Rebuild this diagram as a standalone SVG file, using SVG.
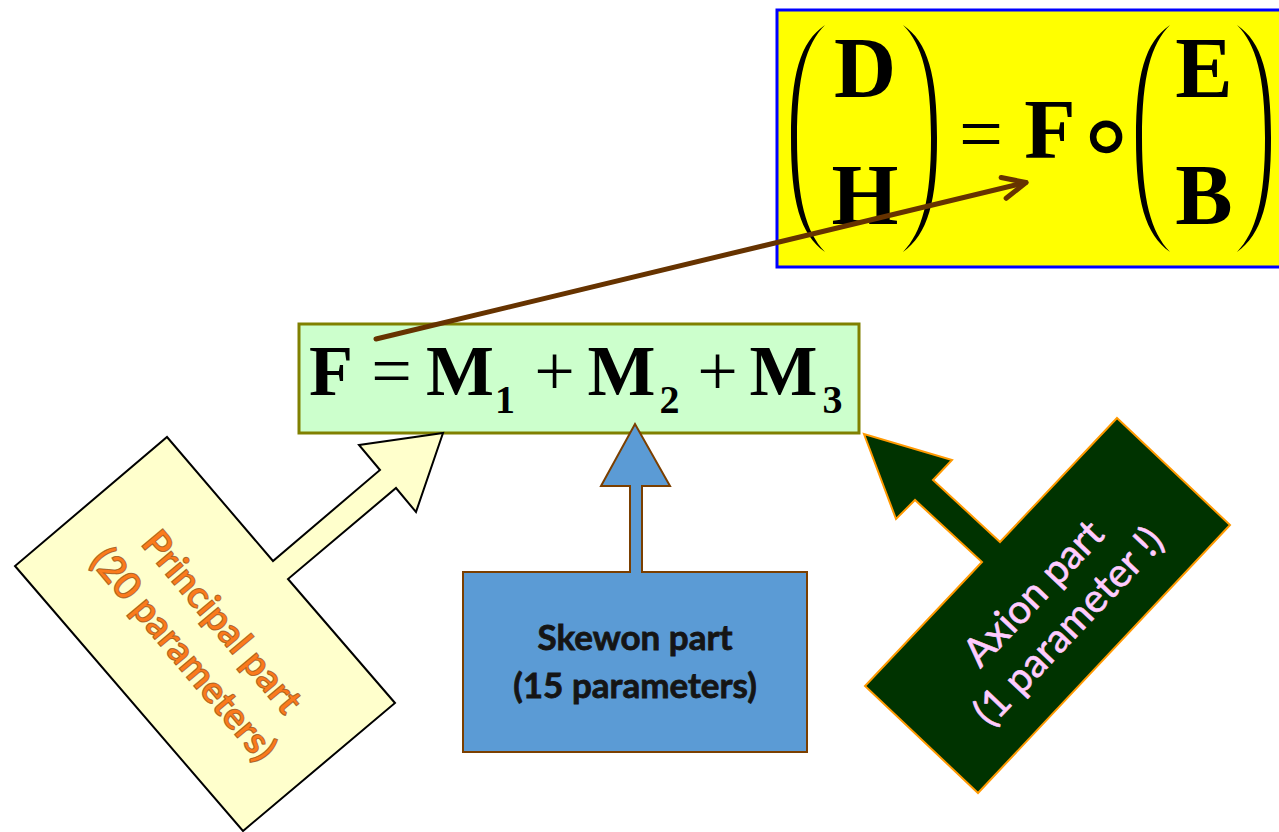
<svg xmlns="http://www.w3.org/2000/svg" width="1279" height="832" viewBox="0 0 1279 832">
<defs>
<style>
.math{font-family:"Liberation Serif","Times New Roman",serif;fill:#000}
.b{font-weight:bold}
.lbl{font-family:Lato,"Open Sans","Liberation Sans",sans-serif}
.paren{fill:#000}
</style>
<marker id="chev" markerUnits="userSpaceOnUse" markerWidth="40" markerHeight="40" viewBox="-30 -20 40 40" refX="0" refY="0" orient="auto">
<path d="M-23,-10.7 L0,0 L-23,10.7" fill="none" stroke="#663300" stroke-width="5" stroke-linecap="round" stroke-linejoin="round"/>
</marker>
</defs>
<rect width="1279" height="832" fill="#fff"/>

<g id="node-result">
<rect x="777" y="10" width="520" height="257" fill="#ffff00" stroke="#0000ff" stroke-width="3"/>
<path class="paren" d="M825,25 C800,42 791,75 791,138 C791,201 800,234 825,252 C806,232 797,200 797,138 C797,76 806,44 825,25 Z"/>
<path class="paren" d="M903,25 C928,42 937,75 937,138 C937,201 928,234 903,252 C922,232 931,200 931,138 C931,76 922,44 903,25 Z"/>
<path class="paren" d="M1170,25 C1145,42 1136,75 1136,138 C1136,201 1145,234 1170,252 C1151,232 1142,200 1142,138 C1142,76 1151,44 1170,25 Z"/>
<path class="paren" d="M1237,25 C1262,42 1271,75 1271,138 C1271,201 1262,234 1237,252 C1256,232 1265,200 1265,138 C1265,76 1256,44 1237,25 Z"/>
<text class="math" text-anchor="middle"><tspan class="b" x="865" y="97" font-size="86">D</tspan><tspan class="b" x="865" y="224" font-size="86">H</tspan><tspan x="981" y="160" font-size="78">=</tspan><tspan class="b" x="1050" y="158" font-size="84">F</tspan><tspan x="1106" y="170" font-size="105" style="font-family:'DejaVu Sans',sans-serif">∘</tspan><tspan class="b" x="1204" y="97" font-size="86">E</tspan><tspan class="b" x="1204" y="224" font-size="86">B</tspan></text>
</g>

<g id="node-F">
<rect x="299" y="324" width="560" height="109" fill="#ccffcc" stroke="#808000" stroke-width="3"/>
<text class="math" text-anchor="middle" font-size="72"><tspan class="b" x="331" y="395">F</tspan><tspan x="391.5" y="395">=</tspan><tspan class="b" x="460" y="395">M</tspan><tspan class="b" x="505" y="413" font-size="40">1</tspan><tspan x="554.5" y="395">+</tspan><tspan class="b" x="621.5" y="395">M</tspan><tspan class="b" x="669.5" y="413" font-size="40">2</tspan><tspan x="717.5" y="395">+</tspan><tspan class="b" x="783.5" y="395">M</tspan><tspan class="b" x="832.5" y="413" font-size="40">3</tspan></text>
</g>

<g id="node-principal">
<polygon points="167,437 273,561 380,470 359,445 443,433 416,512 396,488 288,579 395,703 243,831 15,566" fill="#ffffcc" stroke="#000" stroke-width="2" stroke-linejoin="miter"/>
<g transform="translate(203,638) rotate(50)">
<text class="lbl" text-anchor="middle" font-size="38" font-weight="bold" fill="#fa7a1c" stroke="#8a4a10" stroke-width="1" stroke-opacity="0.7"><tspan x="0" y="-12">Principal part</tspan><tspan x="0" y="38">(20 parameters)</tspan></text>
</g>
</g>

<g id="node-skewon">
<polygon points="463,572 630,572 630,486 601,486 635,424 670,486 642,486 642,572 807,572 807,752 463,752" fill="#5b9bd5" stroke="#7b3f00" stroke-width="2"/>
<text class="lbl" text-anchor="middle" font-size="35" font-weight="bold" fill="#151515" stroke="#151515" stroke-width="0.8"><tspan x="635" y="650">Skewon part</tspan><tspan x="635" y="698">(15 parameters)</tspan></text>
</g>

<g id="node-axion">
<polygon points="1117,418 1230,525 978,793 865,686 982,562 915,500 896,519 864,434 952,460 933,480 1000,542" fill="#003300" stroke="#ff9900" stroke-width="2"/>
<g transform="translate(1050.5,609.5) rotate(-46.6)">
<text class="lbl" text-anchor="middle" font-size="40" fill="#ffccff" stroke="#ffccff" stroke-width="0.6"><tspan x="0" y="-10">Axion part</tspan><tspan x="0" y="38">(1 parameter !)</tspan></text>
</g>
</g>

<g id="connectors">
<line x1="376" y1="339" x2="1026" y2="182.5" stroke="#663300" stroke-width="5" stroke-linecap="round" marker-end="url(#chev)"/>
</g>
</svg>
